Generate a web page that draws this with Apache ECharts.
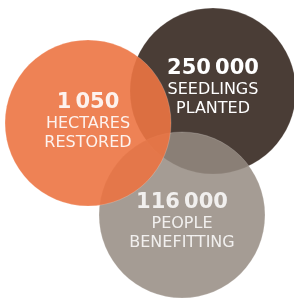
<!DOCTYPE html>
<html>
<head>
<meta charset="utf-8">
<script src="https://cdn.jsdelivr.net/npm/echarts@6/dist/echarts.min.js"></script>
<style>
  html, body { margin: 0; padding: 0; background: #fff; }
  #chart { width: 294px; height: 298px; }
</style>
</head>
<body>
<div id="chart"></div>
<script>
// circles drawn back to front: seedlings, people, hectares
const names = ['seedlings', 'people', 'hectares'];
const centerX = [213, 182, 88];
const centerY = [91, 215, 123];
const radius = [83, 83, 83];
const figures = ['250\u2009000', '116\u2009000', '1\u2009050'];
const captions = [
  ['SEEDLINGS', 'PLANTED'],
  ['PEOPLE', 'BENEFITTING'],
  ['HECTARES', 'RESTORED']
];

const colors = ['#4a3d36', 'rgb(149,139,129)', 'rgb(236,116,66)'];
const opacities = [1, 0.85, 0.9];
const labelShift = [[0, -3], [0, 7], [0, -1]];

const chart = echarts.init(document.getElementById('chart'));

const data = names.map((n, i) => ({
  name: n,
  value: [centerX[i], centerY[i]],
  symbolSize: radius[i] * 2,
  itemStyle: { color: colors[i], opacity: opacities[i] },
  label: {
    offset: labelShift[i],
    formatter: '{n|' + figures[i] + '}\n' + captions[i].map(t => '{t|' + t + '}').join('\n')
  }
}));

chart.setOption({
  animation: false,
  grid: { left: 0, right: 0, top: 0, bottom: 0 },
  xAxis: { type: 'value', min: 0, max: 294, show: false },
  yAxis: { type: 'value', min: 0, max: 298, inverse: true, show: false },
  series: [{
    type: 'scatter',
    symbol: 'circle',
    silent: true,
    itemStyle: { borderColor: 'rgba(255,255,255,0.35)', borderWidth: 0.6 },
    label: {
      show: true,
      position: 'inside',
      color: '#fff',
      align: 'center',
      rich: {
        n: { fontFamily: 'DejaVu Sans', fontWeight: 'bold', fontSize: 21, lineHeight: 23, color: '#fff' },
        t: { fontFamily: 'DejaVu Sans', fontSize: 16, lineHeight: 19, color: '#fff' }
      }
    },
    data: data
  }]
});
</script>
</body>
</html>
